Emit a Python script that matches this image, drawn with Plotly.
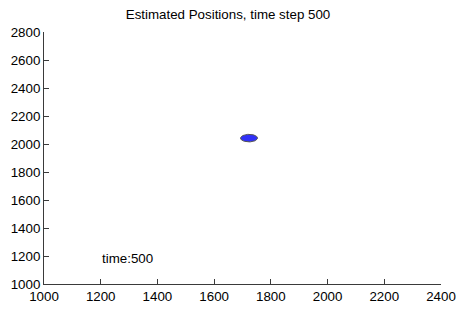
import numpy as np
import plotly.graph_objects as go

# Data
center_x = [1723]
center_y = [2042]
radius_x = [30]
radius_y = [27]
label_text = ["time:500"]
label_x = [1200]
label_y = [1185]
x_ticks = [1000, 1200, 1400, 1600, 1800, 2000, 2200, 2400]
y_ticks = [1000, 1200, 1400, 1600, 1800, 2000, 2200, 2400, 2600, 2800]

fig = go.Figure()
t = np.linspace(0, 2 * np.pi, 80)
for cx, cy, rx, ry in zip(center_x, center_y, radius_x, radius_y):
    fig.add_trace(go.Scatter(
        x=cx + rx * np.cos(t), y=cy + ry * np.sin(t),
        mode="lines", fill="toself", fillcolor="#3030f8",
        line=dict(color="#555555", width=1), hoverinfo="skip", showlegend=False))

for txt, lx, ly in zip(label_text, label_x, label_y):
    fig.add_annotation(x=lx, y=ly, text=txt, showarrow=False, xanchor="left",
                       yanchor="middle", borderpad=0, font=dict(size=13.33, color="black"))

font = dict(family="Liberation Sans, Arial, sans-serif", size=13.33, color="black")
axis_common = dict(showgrid=False, zeroline=False, showline=True, linecolor="#3a3a3a",
                   linewidth=1, ticks="inside", ticklen=5, tickcolor="#3a3a3a",
                   mirror=False, fixedrange=True, automargin=False)
fig.update_layout(
    width=456, height=309,
    margin=dict(l=44, r=15, t=32, b=25, autoexpand=False),
    paper_bgcolor="white", plot_bgcolor="white",
    font=font,
    title=dict(text="Estimated Positions, time step 500", x=0.5, xanchor="center",
               y=1 - 14 / 309, yanchor="middle", font=dict(size=13.33)),
    xaxis=dict(range=[1000, 2400], tickvals=x_ticks, **axis_common),
    yaxis=dict(range=[1000, 2800], tickvals=y_ticks, **axis_common),
)
fig.write_html("out.html", config={"displayModeBar": False},
               post_script="document.body.style.margin='0';")
